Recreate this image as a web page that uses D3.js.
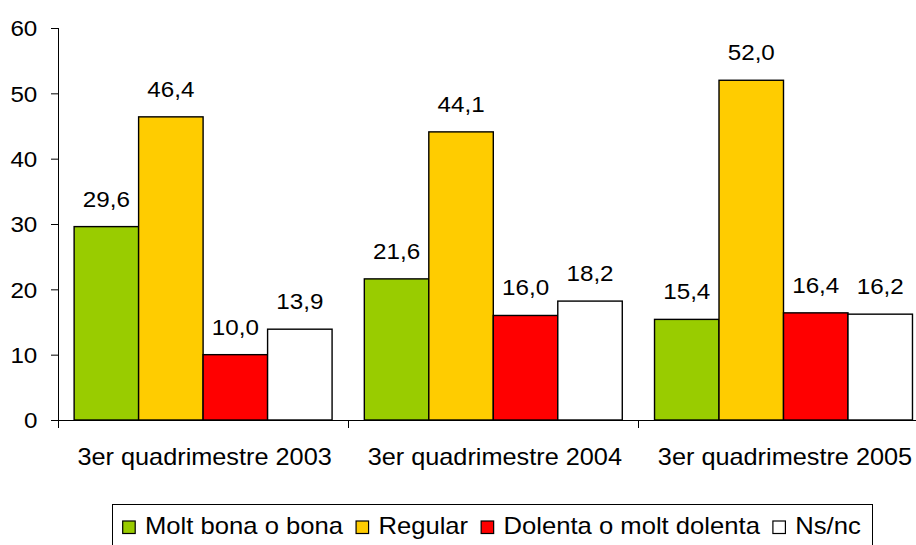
<!DOCTYPE html>
<html>
<head>
<meta charset="utf-8">
<script src="https://cdn.jsdelivr.net/npm/d3@7"></script>
<style>
  html, body { margin: 0; padding: 0; background: #fff; }
  svg { display: block; }
  text { font-family: "Liberation Sans", Arial, sans-serif; fill: #000; }
</style>
</head>
<body>
<svg id="chart" width="916" height="545"></svg>
<script>
const categories = ["3er quadrimestre 2003", "3er quadrimestre 2004", "3er quadrimestre 2005"];
const seriesNames = ["Molt bona o bona", "Regular", "Dolenta o molt dolenta", "Ns/nc"];
const moltBona = [29.6, 21.6, 15.4];
const regular = [46.4, 44.1, 52.0];
const dolenta = [10.0, 16.0, 16.4];
const nsnc = [13.9, 18.2, 16.2];
const yTicks = [0, 10, 20, 30, 40, 50, 60];
const colors = ["#99CC00", "#FFCC00", "#FF0000", "#FFFFFF"];

const seriesValues = [moltBona, regular, dolenta, nsnc];
const SX = 1.1; // horizontal text stretch
const SXL = 1.115; // legend stretch

const svg = d3.select("#chart");

const x0 = d3.scaleBand().domain(categories).range([58, 928.6]).paddingInner(0).paddingOuter(0);
const x1 = d3.scaleBand().domain(seriesNames).range([0, x0.bandwidth()]).paddingInner(0).paddingOuter(0.25);
const y = d3.scaleLinear().domain([0, 60]).range([420, 28]);

const fmt = v => d3.format(".1f")(v).replace(".", ",");

// bars
const groups = svg.append("g").selectAll("g")
  .data(categories)
  .join("g")
  .attr("transform", d => `translate(${x0(d)},0)`);

groups.selectAll("rect")
  .data((c, ci) => seriesNames.map((s, si) => ({ s, si, v: seriesValues[si][ci] })))
  .join("rect")
  .attr("x", d => x1(d.s))
  .attr("y", d => y(d.v))
  .attr("width", x1.bandwidth())
  .attr("height", d => y(0) - y(d.v))
  .attr("fill", d => colors[d.si])
  .attr("stroke", "#000")
  .attr("stroke-width", 1.4);

// value labels
groups.selectAll("text.val")
  .data((c, ci) => seriesNames.map((s, si) => ({ s, si, v: seriesValues[si][ci] })))
  .join("text")
  .attr("class", "val")
  .attr("text-anchor", "middle")
  .attr("font-size", 22)
  .attr("transform", d => `translate(${x1(d.s) + x1.bandwidth() / 2},${y(d.v) - 20}) scale(${SX},1)`)
  .text(d => fmt(d.v));

// y axis
const yAxis = svg.append("g")
  .attr("transform", "translate(58,0)")
  .call(d3.axisLeft(y).tickValues(yTicks).tickSize(7).tickPadding(11.8).tickFormat(d3.format("d")));
yAxis.select(".domain").attr("stroke", "#000").attr("d", `M0.5,${y(60)}V${y(0)}`);
yAxis.selectAll(".tick line").attr("stroke", "#000");
yAxis.selectAll(".tick text")
  .attr("font-size", 22)
  .attr("font-family", "Liberation Sans, Arial, sans-serif")
  .attr("fill", "#000")
  .attr("dy", "0.36em")
  .attr("transform", `scale(${SX},1)`);

// x axis line and boundary ticks
const xAxis = svg.append("g");
xAxis.append("line")
  .attr("x1", 51).attr("x2", 916)
  .attr("y1", y(0) + 0.5).attr("y2", y(0) + 0.5)
  .attr("stroke", "#000");
const bounds = categories.map(c => x0(c)).concat([x0.range()[1]]);
xAxis.selectAll("line.tk")
  .data(bounds)
  .join("line")
  .attr("class", "tk")
  .attr("x1", d => Math.round(d) + 0.5).attr("x2", d => Math.round(d) + 0.5)
  .attr("y1", y(0)).attr("y2", y(0) + 8)
  .attr("stroke", "#000");
xAxis.selectAll("text.cat")
  .data(categories)
  .join("text")
  .attr("class", "cat")
  .attr("text-anchor", "middle")
  .attr("font-size", 23)
  .attr("transform", d => `translate(${x0(d) + x0.bandwidth() / 2 + 1.5},465) scale(${SX},1)`)
  .text(d => d);

// legend
const legend = svg.append("g");
legend.append("rect")
  .attr("x", 112.5).attr("y", 504.5)
  .attr("width", 760).attr("height", 60)
  .attr("fill", "#fff").attr("stroke", "#000").attr("stroke-width", 1);
let lx = 122.7;
seriesNames.forEach((name, i) => {
  legend.append("rect")
    .attr("x", lx).attr("y", 521)
    .attr("width", 12.5).attr("height", 12.5)
    .attr("fill", colors[i]).attr("stroke", "#000").attr("stroke-width", 1.2);
  lx += 22.3;
  const t = legend.append("text")
    .attr("font-size", 23)
    .attr("transform", `translate(${lx},534) scale(${SXL},1)`)
    .text(name);
  lx += t.node().getComputedTextLength() * SXL + 13;
});
</script>
</body>
</html>
